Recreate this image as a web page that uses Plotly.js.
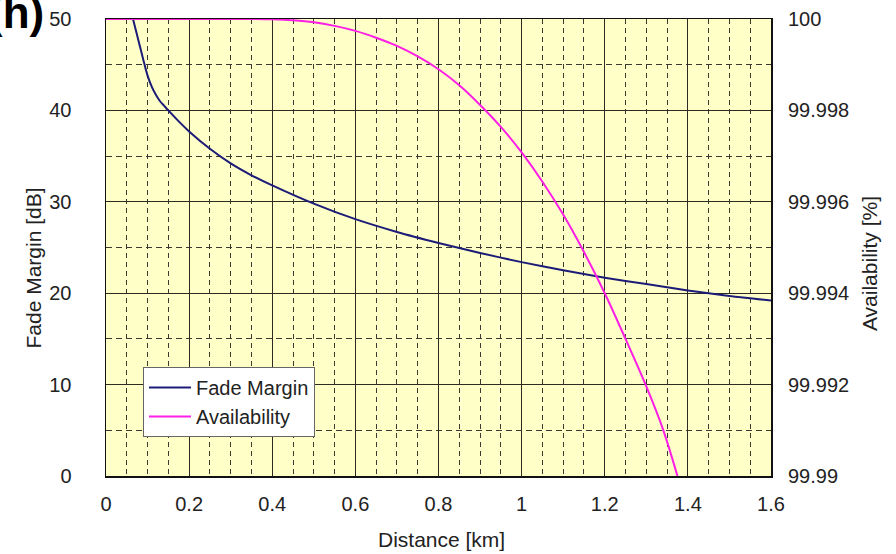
<!DOCTYPE html>
<html>
<head>
<meta charset="utf-8">
<script src="https://cdn.plot.ly/plotly-3.0.1.min.js"></script>
<style>html,body{margin:0;padding:0;background:#fff;}#chart{width:896px;height:554px;}</style>
</head>
<body>
<div id="chart"></div>
<script>
// Fade margin curve (left axis, dB)
const fmDistance = [0.065, 0.07, 0.08, 0.09, 0.1, 0.11, 0.12, 0.13, 0.14, 0.15, 0.175, 0.2, 0.25, 0.3, 0.35, 0.4, 0.5, 0.6, 0.7, 0.8, 0.9, 1.0, 1.1, 1.2, 1.3, 1.4, 1.5, 1.6];
const fadeMargin = [50, 49.1, 47.3, 45.5, 43.8, 42.6, 41.7, 41.0, 40.5, 40.0, 38.8, 37.7, 35.8, 34.2, 32.9, 31.8, 29.8, 28.1, 26.7, 25.5, 24.4, 23.4, 22.5, 21.7, 21.0, 20.3, 19.7, 19.2];

// Availability curve (right axis, %)
const avDistance = [0, 0.3, 0.35, 0.4, 0.45, 0.5, 0.55, 0.6, 0.65, 0.7, 0.75, 0.8, 0.85, 0.9, 0.95, 1.0, 1.05, 1.1, 1.15, 1.2, 1.25, 1.3, 1.341, 1.375];
const availability = [100, 100, 99.999998, 99.999992, 99.999972, 99.99993, 99.99985, 99.99974, 99.99959, 99.99941, 99.99918, 99.9989, 99.99855, 99.99812, 99.99764, 99.99708, 99.99644, 99.99572, 99.9949, 99.994, 99.993, 99.99196, 99.991, 99.99];

// Tick labels
const xTickVals = [0, 0.2, 0.4, 0.6, 0.8, 1, 1.2, 1.4, 1.6];
const xTickText = ['0', '0.2', '0.4', '0.6', '0.8', '1', '1.2', '1.4', '1.6'];
const yTickVals = [0, 10, 20, 30, 40, 50];
const yTickText = ['0', '10', '20', '30', '40', '50'];
const y2TickVals = [99.99, 99.992, 99.994, 99.996, 99.998, 100];
const y2TickText = ['99.99', '99.992', '99.994', '99.996', '99.998', '100'];

// Titles
const xTitle = 'Distance [km]';
const yTitle = 'Fade Margin [dB]';
const y2Title = 'Availability [%]';
const panelLabel = '(h)';

const FONT = 'Liberation Sans, Arial, sans-serif';
const majorGrid = '#2b2b22';
const minorGrid = '#3a3a30';
const titleFont = {family: FONT, size: 21, color: '#222'};

const traces = [
  {
    x: fmDistance, y: fadeMargin, name: 'Fade Margin', type: 'scatter', mode: 'lines',
    line: {color: '#1c1c78', width: 2, shape: 'spline', smoothing: 0.8},
    yaxis: 'y'
  },
  {
    x: avDistance, y: availability, name: 'Availability', type: 'scatter', mode: 'lines',
    line: {color: '#ff1ee6', width: 2, shape: 'spline', smoothing: 0.8},
    yaxis: 'y2'
  }
];

const layout = {
  width: 896, height: 554,
  margin: {l: 106, r: 125, t: 19, b: 78, pad: 0},
  paper_bgcolor: '#ffffff',
  plot_bgcolor: '#ffffc8',
  font: {family: FONT, size: 20, color: '#222'},
  showlegend: true,
  legend: {
    x: 0.0556, y: 0.2385, xanchor: 'left', yanchor: 'top',
    bgcolor: '#ffffff', bordercolor: '#666', borderwidth: 1,
    font: {family: FONT, size: 20, color: '#222'},
    itemwidth: 42, tracegroupgap: 0
  },
  xaxis: {
    range: [0, 1.6], tickmode: 'array', tickvals: xTickVals, ticktext: xTickText,
    showgrid: true, gridcolor: majorGrid, gridwidth: 1,
    minor: {dtick: 0.05, tick0: 0, showgrid: true, gridcolor: minorGrid, gridwidth: 1, griddash: '5px,4px'},
    showline: true, mirror: true, linecolor: '#111', linewidth: 1.5,
    zeroline: false, ticks: '', ticklabelstandoff: 9,
    tickfont: {family: FONT, size: 20, color: '#222'},
    automargin: false, fixedrange: true
  },
  yaxis: {
    range: [0, 50], tickmode: 'array', tickvals: yTickVals, ticktext: yTickText,
    showgrid: true, gridcolor: majorGrid, gridwidth: 1,
    minor: {dtick: 5, tick0: 0, showgrid: true, gridcolor: minorGrid, gridwidth: 1, griddash: '6px,4px'},
    showline: true, mirror: true, linecolor: '#111', linewidth: 1.5,
    zeroline: false, ticks: '', ticklabelstandoff: 29,
    tickfont: {family: FONT, size: 20, color: '#222'},
    automargin: false, fixedrange: true
  },
  yaxis2: {
    range: [99.99, 100], overlaying: 'y', side: 'right',
    tickmode: 'array', tickvals: y2TickVals, ticktext: y2TickText,
    showgrid: false, zeroline: false, showline: false, ticks: '', ticklabelstandoff: 16,
    tickfont: {family: FONT, size: 20, color: '#222'},
    automargin: false, fixedrange: true
  },
  annotations: [
    {
      text: '<b>' + panelLabel + '</b>', xref: 'paper', yref: 'paper',
      x: -0.0902, y: 1.0153, xanchor: 'right', yanchor: 'middle',
      showarrow: false, font: {family: FONT, size: 44, color: '#000'}
    },
    {
      text: xTitle, xref: 'paper', yref: 'paper',
      x: 0.5038, y: -0.1400, xanchor: 'center', yanchor: 'middle',
      showarrow: false, font: titleFont
    },
    {
      text: yTitle, xref: 'paper', yref: 'paper', textangle: -90,
      x: -0.1083, y: 0.4562, xanchor: 'center', yanchor: 'middle',
      showarrow: false, font: titleFont
    },
    {
      text: y2Title, xref: 'paper', yref: 'paper', textangle: -90,
      x: 1.1489, y: 0.4639, xanchor: 'center', yanchor: 'middle',
      showarrow: false, font: titleFont
    }
  ]
};

Plotly.newPlot('chart', traces, layout, {displayModeBar: false, staticPlot: true});
</script>
</body>
</html>
